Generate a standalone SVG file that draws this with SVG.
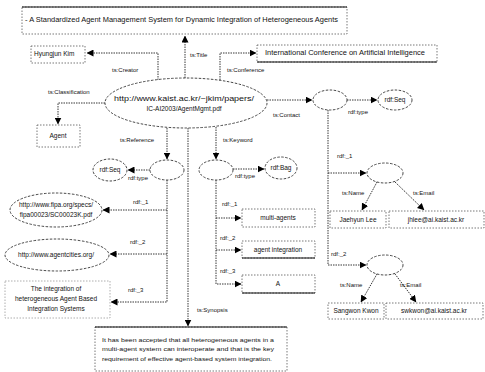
<svg xmlns="http://www.w3.org/2000/svg" width="485" height="372" viewBox="0 0 485 372">
<style>
.ln{fill:none;stroke:#222;stroke-width:0.9;stroke-dasharray:1.5 1}
.sd{fill:none;stroke:#111;stroke-width:1.2}
.bx{fill:#fff;stroke:#555;stroke-width:0.8;stroke-dasharray:1.5 1.5}
.el{fill:#fff;stroke:#333;stroke-width:0.9;stroke-dasharray:2.5 1.5}
text{font-family:"Liberation Sans",Arial,sans-serif;fill:#111}
.t{font-size:6.5px}
.lb{font-size:6px}
.m{text-anchor:middle}
</style>
<defs>
<marker id="ah" markerUnits="userSpaceOnUse" markerWidth="7" markerHeight="7" refX="6.5" refY="3.5" orient="auto">
<path d="M0,0 L7,3.5 L0,7 z" fill="#000"/>
</marker>
</defs>

<g id="connectors">
<path class="ln" d="M185,78 L185,36" marker-end="url(#ah)"/>
<path class="ln" d="M158,80 L158,53 L87,53" marker-end="url(#ah)"/>
<path class="ln" d="M220,80 L220,53 L256,53" marker-end="url(#ah)"/>
<path class="ln" d="M105,103 L58,103 L58,124" marker-end="url(#ah)"/>
<path class="ln" d="M267,100 L312,100" marker-end="url(#ah)"/>
<path class="ln" d="M347,100 L377,100" marker-end="url(#ah)"/>
<path class="ln" d="M328,110 L328,265 L366,265" marker-end="url(#ah)"/>
<path class="ln" d="M328,173 L366,173" marker-end="url(#ah)"/>
<path class="ln" d="M377,182 L362,210" marker-end="url(#ah)"/>
<path class="ln" d="M395,182 L424,210" marker-end="url(#ah)"/>
<path class="ln" d="M377,274 L361,302" marker-end="url(#ah)"/>
<path class="ln" d="M395,274 L416,302" marker-end="url(#ah)"/>
<path class="ln" d="M167,128 L167,159" marker-end="url(#ah)"/>
<path class="ln" d="M216,127 L216,159" marker-end="url(#ah)"/>
<path class="ln" d="M188,128 L188,326" marker-end="url(#ah)"/>
<path class="ln" d="M150,170 L128,170" marker-end="url(#ah)"/>
<path class="ln" d="M167,180 L167,302 L111,302" marker-end="url(#ah)"/>
<path class="ln" d="M167,210 L103,210" marker-end="url(#ah)"/>
<path class="ln" d="M167,254 L110,254" marker-end="url(#ah)"/>
<path class="ln" d="M233,169 L264,169" marker-end="url(#ah)"/>
<path class="ln" d="M216,180 L216,284 L241,284" marker-end="url(#ah)"/>
<path class="ln" d="M216,218 L241,218" marker-end="url(#ah)"/>
<path class="ln" d="M216,250 L241,250" marker-end="url(#ah)"/>
<text class="lb" x="112" y="72">ts:Creator</text>
<text class="lb" x="190" y="57">ts:Title</text>
<text class="lb" x="227" y="72">ts:Conference</text>
<text class="lb" x="48" y="94">ts:Classification</text>
<text class="lb" x="120" y="142">ts:Reference</text>
<text class="lb" x="223" y="142">ts:Keyword</text>
<text class="lb" x="273" y="117">ts:Contact</text>
<text class="lb" x="348" y="114">rdf:type</text>
<text class="lb" x="128" y="180">rdf:type</text>
<text class="lb" x="235" y="178">rdf:type</text>
<text class="lb" x="133" y="204">rdf:_1</text>
<text class="lb" x="130" y="244">rdf:_2</text>
<text class="lb" x="128" y="292">rdf:_3</text>
<text class="lb" x="222" y="206">rdf:_1</text>
<text class="lb" x="220" y="240">rdf:_2</text>
<text class="lb" x="220" y="273">rdf:_3</text>
<text class="lb" x="337" y="158">rdf:_1</text>
<text class="lb" x="331" y="256">rdf:_2</text>
<text class="lb" x="342" y="195">ts:Name</text>
<text class="lb" x="413" y="195">ts:Email</text>
<text class="lb" x="340" y="287">ts:Name</text>
<text class="lb" x="400" y="287">ts:Email</text>
<text class="lb" x="197" y="312">ts:Synopsis</text>
</g>

<g id="title">
<rect class="bx" x="22" y="7" width="325" height="27"/>
<line class="sd" x1="22" y1="7" x2="347" y2="7"/>
<text class="t" x="25" y="22" textLength="313" lengthAdjust="spacingAndGlyphs">- A Standardized Agent Management System for Dynamic Integration of Heterogeneous Agents</text>
</g>

<g id="creator">
<rect class="bx" x="31" y="46" width="54" height="17"/>
<text class="t" x="34" y="56">Hyungjun Kim</text>
</g>

<g id="conference">
<rect class="bx" x="257" y="45" width="180" height="17"/>
<line class="sd" x1="257" y1="62" x2="437" y2="62"/>
<text class="t" x="265" y="55" textLength="160" lengthAdjust="spacingAndGlyphs">International Conference on Artificial Intelligence</text>
</g>

<g id="paper">
<ellipse class="el" cx="186" cy="103" rx="81" ry="25"/>
<text class="t m" x="184" y="101" textLength="140" lengthAdjust="spacingAndGlyphs">http://www.kaist.ac.kr/~jkim/papers/</text>
<text class="t m" x="184" y="111">IC-AI2003/AgentMgmt.pdf</text>
</g>

<g id="agent">
<rect class="bx" x="37" y="125" width="43" height="22"/>
<text class="t m" x="58" y="138">Agent</text>
</g>

<g id="contact">
<ellipse class="el" cx="330" cy="100" rx="17" ry="10"/>
</g>
<g id="contactSeq">
<ellipse class="el" cx="395" cy="100" rx="17" ry="10"/>
<text class="t m" x="395" y="102">rdf:Seq</text>
</g>
<g id="contact1">
<ellipse class="el" cx="385" cy="173" rx="18" ry="10"/>
</g>
<g id="name1">
<rect class="bx" x="330" y="211" width="56" height="17"/>
<text class="t m" x="358" y="222">Jaehyun Lee</text>
</g>
<g id="email1">
<rect class="bx" x="389" y="211" width="95" height="17"/>
<text class="t m" x="436" y="222">jhlee@ai.kaist.ac.kr</text>
</g>
<g id="contact2">
<ellipse class="el" cx="385" cy="265" rx="18" ry="10"/>
</g>
<g id="name2">
<rect class="bx" x="328" y="303" width="56" height="16"/>
<text class="t m" x="356" y="313">Sangwon Kwon</text>
</g>
<g id="email2">
<rect class="bx" x="386" y="303" width="97" height="16"/>
<text class="t m" x="434" y="313">swkwon@ai.kaist.ac.kr</text>
</g>

<g id="reference">
<ellipse class="el" cx="167" cy="170" rx="17" ry="10"/>
</g>
<g id="refSeq">
<ellipse class="el" cx="110" cy="170" rx="17" ry="11"/>
<text class="t m" x="110" y="172">rdf:Seq</text>
</g>
<g id="ref1">
<ellipse class="el" cx="56" cy="210" rx="46" ry="17"/>
<text class="t m" x="56" y="207">http://www.fipa.org/specs/</text>
<text class="t m" x="56" y="217">fipa00023/SC00023K.pdf</text>
</g>
<g id="ref2">
<ellipse class="el" cx="57" cy="255" rx="52" ry="16"/>
<text class="t m" x="56" y="257">http://www.agentcities.org/</text>
</g>
<g id="ref3">
<rect class="bx" x="5" y="281" width="105" height="37" style="stroke:#999"/>
<text class="t m" x="56" y="291">The integration of</text>
<text class="t m" x="56" y="301">heterogeneous Agent Based</text>
<text class="t m" x="56" y="311">Integration Systems</text>
</g>

<g id="keyword">
<ellipse class="el" cx="216" cy="170" rx="17" ry="10"/>
</g>
<g id="kwBag">
<ellipse class="el" cx="281" cy="168" rx="16" ry="11"/>
<text class="t m" x="281" y="170">rdf:Bag</text>
</g>
<g id="kw1">
<rect class="bx" x="242" y="209" width="73" height="18"/>
<text class="t m" x="278" y="220">multi-agents</text>
</g>
<g id="kw2">
<rect class="bx" x="242" y="241" width="73" height="17"/>
<line class="sd" x1="242" y1="258" x2="315" y2="258"/>
<text class="t m" x="278" y="252">agent integration</text>
</g>
<g id="kw3">
<rect class="bx" x="242" y="275" width="73" height="18"/>
<line class="sd" x1="242" y1="293" x2="315" y2="293"/>
<text class="t m" x="278" y="286">A</text>
</g>

<g id="synopsis">
<rect class="bx" x="95" y="327" width="192" height="44"/>
<line class="sd" x1="95" y1="327" x2="287" y2="327"/>
<text class="lb" x="102" y="342" textLength="172" lengthAdjust="spacingAndGlyphs">It has been accepted that all heterogeneous agents in a</text>
<text class="lb" x="102" y="351" textLength="172" lengthAdjust="spacingAndGlyphs">multi-agent system can interoperate and that is the key</text>
<text class="lb" x="102" y="361" textLength="170" lengthAdjust="spacingAndGlyphs">requirement of effective agent-based system integration.</text>
</g>
</svg>
